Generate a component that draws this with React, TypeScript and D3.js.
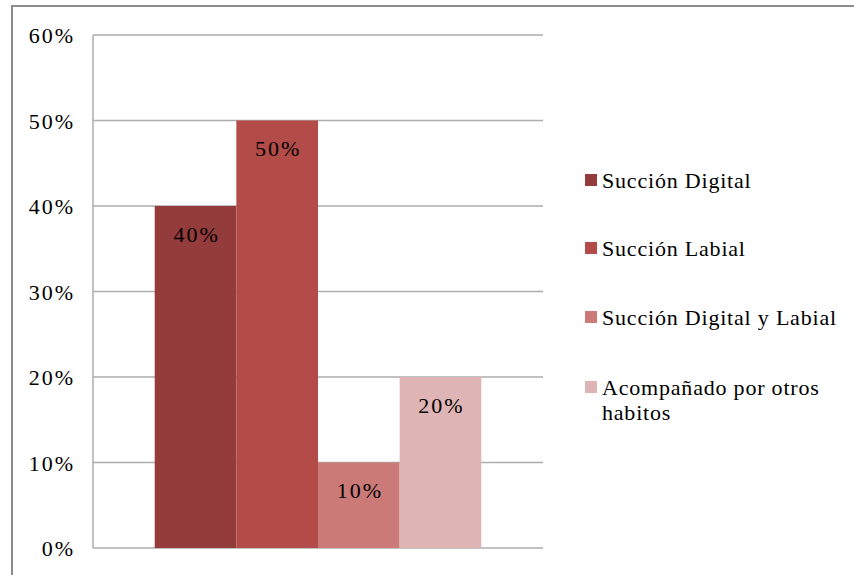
import React from "react";
import * as d3 from "d3";

const series = [
  "Succión Digital",
  "Succión Labial",
  "Succión Digital y Labial",
  "Acompañado por otros habitos",
];
const values = [0.4, 0.5, 0.1, 0.2];
const colors = ["#943B3B", "#B34B48", "#CB7A78", "#DFB4B4"];
const legendLines = [
  ["Succión Digital"],
  ["Succión Labial"],
  ["Succión Digital y Labial"],
  ["Acompañado por otros", "habitos"],
];
const yTicks = [0, 0.1, 0.2, 0.3, 0.4, 0.5, 0.6];

const W = 854;
const H = 575;
const FONT = "Liberation Serif, Times New Roman, Times, DejaVu Serif, serif";

export default function App() {
  const plot = { left: 93, right: 543, top: 35, bottom: 548 };
  const y = d3.scaleLinear().domain([0, 0.6]).range([plot.bottom, plot.top]);
  const group = d3
    .scaleBand<string>()
    .domain(["all"])
    .range([plot.left, plot.right])
    .paddingInner(0)
    .paddingOuter(0.189);
  const x = d3
    .scaleBand<string>()
    .domain(series)
    .range([group("all")!, group("all")! + group.bandwidth()]);
  const pct = d3.format(".0%");
  const legendY = [180, 248, 317, 387];
  const txt = { fontFamily: FONT };

  return (
    <svg
      width={W}
      height={H}
      style={{ position: "absolute", left: 0, top: 0, background: "#fff" }}
    >
      {/* outer frame */}
      <rect x={12} y={6} width={W + 10} height={H + 10} fill="none" stroke="#8C8C8C" strokeWidth={2} />

      {/* gridlines */}
      {yTicks.map((t) => (
        <line key={t} x1={plot.left} x2={plot.right} y1={y(t)} y2={y(t)} stroke="#ADADAD" strokeWidth={1.5} />
      ))}
      <line x1={plot.left} x2={plot.left} y1={plot.top} y2={plot.bottom} stroke="#ADADAD" strokeWidth={1.5} />

      {/* y tick labels */}
      {yTicks.map((t) => (
        <text
          key={t}
          x={75}
          y={y(t)}
          dy="0.38em"
          textAnchor="end"
          fontSize={22}
          letterSpacing={2}
          fill="#000"
          style={txt}
        >
          {pct(t)}
        </text>
      ))}

      {/* bars */}
      {series.map((s, i) => (
        <rect
          key={s}
          x={x(s)}
          y={y(values[i])}
          width={x.bandwidth()}
          height={y(0) - y(values[i])}
          fill={colors[i]}
        />
      ))}

      {/* value labels */}
      {series.map((s, i) => (
        <text
          key={s}
          x={x(s)! + x.bandwidth() / 2 + 1}
          y={y(values[i]) + 28}
          dy="0.36em"
          textAnchor="middle"
          fontSize={22}
          letterSpacing={2}
          fill="#000"
          style={txt}
        >
          {pct(values[i])}
        </text>
      ))}

      {/* legend */}
      {series.map((s, i) => (
        <g key={s} transform={`translate(585, ${legendY[i]})`}>
          <rect x={0} y={-6} width={12} height={12} fill={colors[i]} />
          <text x={17} y={0} fontSize={22} letterSpacing={0.8} fill="#000" style={txt}>
            {legendLines[i].map((ln, j) => (
              <tspan key={j} x={17} dy={j === 0 ? "0.36em" : 25}>
                {ln}
              </tspan>
            ))}
          </text>
        </g>
      ))}
    </svg>
  );
}
